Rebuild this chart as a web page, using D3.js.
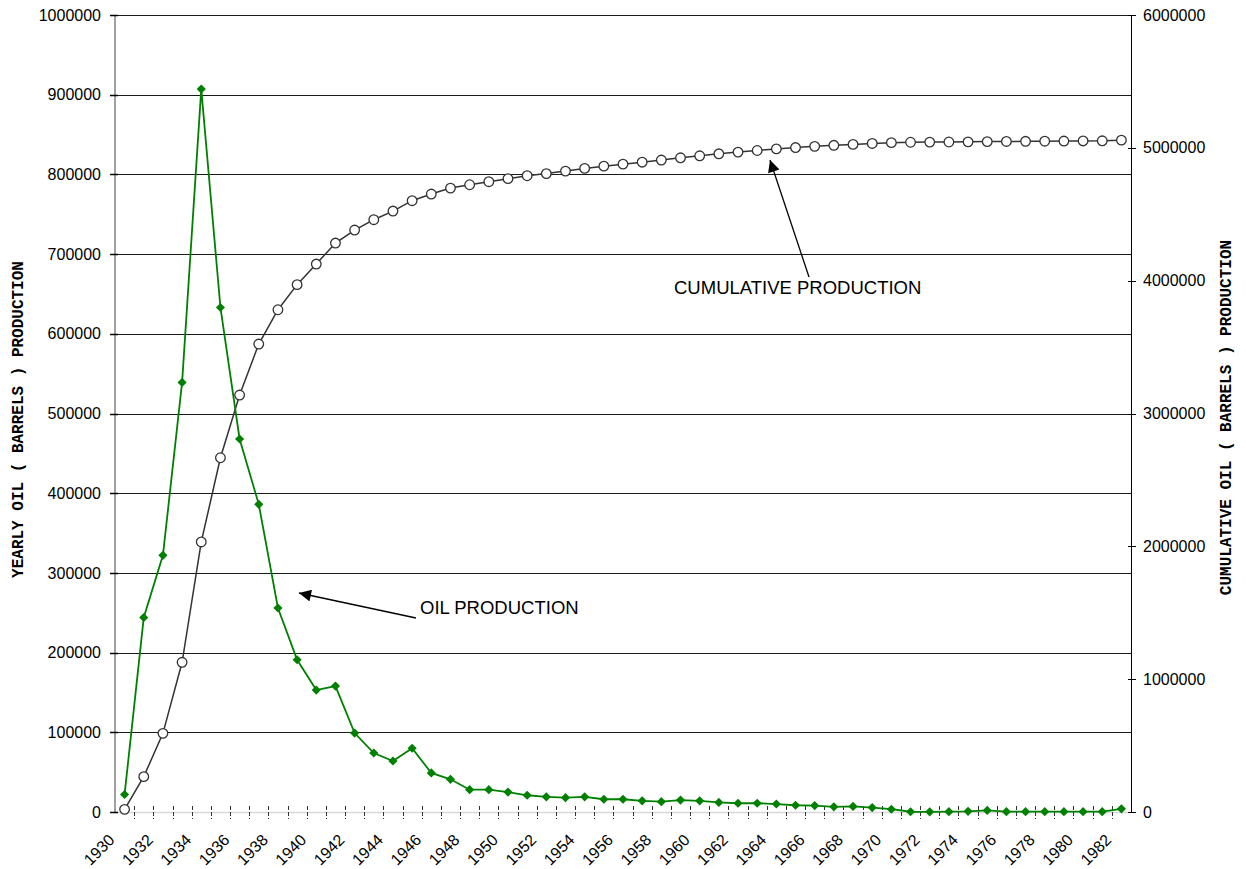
<!DOCTYPE html>
<html>
<head>
<meta charset="utf-8">
<script src="https://cdn.jsdelivr.net/npm/d3@7"></script>
<style>
  body { margin: 0; background: #fff; }
  svg text { font-family: Arial, 'Liberation Sans', sans-serif; fill: #000; }
  .axis-title { font-family: 'Courier New', 'Liberation Mono', monospace; font-weight: bold; font-size: 16px; }
</style>
</head>
<body>
<div id="chart"></div>
<script>
const years = [1930, 1931, 1932, 1933, 1934, 1935, 1936, 1937, 1938, 1939,
  1940, 1941, 1942, 1943, 1944, 1945, 1946, 1947, 1948, 1949,
  1950, 1951, 1952, 1953, 1954, 1955, 1956, 1957, 1958, 1959,
  1960, 1961, 1962, 1963, 1964, 1965, 1966, 1967, 1968, 1969,
  1970, 1971, 1972, 1973, 1974, 1975, 1976, 1977, 1978, 1979,
  1980, 1981, 1982]

// yearly oil production, barrels
const yearlyOil = [22000, 244000, 322000, 539000, 907000, 633000, 468000, 386000, 256000, 191000,
  153000, 158000, 99000, 74000, 64000, 80000, 49000, 41000, 28000, 28000,
  25000, 21000, 19000, 18000, 19000, 16000, 16000, 14000, 13000, 15000,
  14000, 12000, 11000, 11000, 10000, 8500, 8000, 6500, 7000, 5500,
  3500, 300, 200, 400, 800, 2000, 400, 400, 400, 400,
  400, 400, 4000]

// cumulative oil production, barrels
const cumulativeOil = [20000, 266000, 592000, 1127000, 2033000, 2667000, 3139000, 3523000, 3781000, 3970000,
  4125000, 4283000, 4381000, 4459000, 4524000, 4602000, 4652000, 4697000, 4722000, 4745000,
  4768000, 4790000, 4806000, 4825000, 4845000, 4862000, 4877000, 4892000, 4908000, 4925000,
  4940000, 4955000, 4968000, 4980000, 4992000, 5002000, 5011000, 5019000, 5026000, 5033000,
  5039000, 5042000, 5043000, 5044000, 5045000, 5047000, 5048000, 5049000, 5050000, 5051000,
  5052000, 5053000, 5058000]

const leftTicks = [0, 100000, 200000, 300000, 400000, 500000, 600000, 700000, 800000, 900000, 1000000]
const rightTicks = [0, 1000000, 2000000, 3000000, 4000000, 5000000, 6000000]
const yearLabels = [1930, 1932, 1934, 1936, 1938, 1940, 1942, 1944, 1946, 1948,
  1950, 1952, 1954, 1956, 1958, 1960, 1962, 1964, 1966, 1968,
  1970, 1972, 1974, 1976, 1978, 1980, 1982]

const width = 1246
const height = 869
const plotLeft = 115
const plotRight = 1131
const plotTop = 15
const plotBottom = 812

const svg = d3.select('#chart')
  .append('svg')
  .attr('width', width)
  .attr('height', height)

const x = d3.scaleBand().domain(years).range([plotLeft, plotRight]).padding(0)
const cx = (yr) => x(yr) + x.bandwidth() / 2
const yLeft = d3.scaleLinear().domain([0, 1000000]).range([plotBottom, plotTop])
const yRight = d3.scaleLinear().domain([0, 6000000]).range([plotBottom, plotTop])

// gridlines
svg.append('g')
  .selectAll('line')
  .data(leftTicks.filter((d) => d > 0))
  .enter()
  .append('line')
  .attr('x1', plotLeft)
  .attr('x2', plotRight)
  .attr('y1', (d) => Math.round(yLeft(d)) + 0.5)
  .attr('y2', (d) => Math.round(yLeft(d)) + 0.5)
  .style('stroke', '#1a1a1a')
  .style('stroke-width', 1)

// x axis line (light) and dashed ticks between categories
svg.append('line')
  .attr('x1', plotLeft)
  .attr('x2', plotRight)
  .attr('y1', plotBottom + 0.5)
  .attr('y2', plotBottom + 0.5)
  .style('stroke', '#d8d8d8')
  .style('stroke-width', 1.5)

svg.append('g')
  .selectAll('line')
  .data(years.slice(1))
  .enter()
  .append('line')
  .attr('x1', (d) => Math.round(x(d)) + 0.5)
  .attr('x2', (d) => Math.round(x(d)) + 0.5)
  .attr('y1', plotBottom - 6)
  .attr('y2', plotBottom + 7)
  .style('stroke', '#333')
  .style('stroke-width', 1)
  .style('stroke-dasharray', '4,2')

// x labels
svg.append('g')
  .selectAll('text')
  .data(yearLabels)
  .enter()
  .append('text')
  .attr('transform', (d) => `translate(${cx(d) - 9}, ${plotBottom + 29}) rotate(-45)`)
  .attr('text-anchor', 'end')
  .style('font-size', '16px')
  .text((d) => d)

// left axis
const leftAxis = d3.axisLeft(yLeft)
  .tickValues(leftTicks)
  .tickSize(0)
  .tickPadding(14)
  .tickFormat(d3.format('d'))

const gl = svg.append('g')
  .attr('transform', `translate(${plotLeft}, 0)`)
  .call(leftAxis)
gl.select('.domain').remove()
gl.selectAll('text').style('font-size', '16px').style('font-family', 'Arial, "Liberation Sans", sans-serif')

svg.append('line')
  .attr('x1', plotLeft)
  .attr('x2', plotLeft)
  .attr('y1', plotTop)
  .attr('y2', plotBottom)
  .style('stroke', '#808080')
  .style('stroke-width', 1.5)

svg.append('g')
  .selectAll('line')
  .data(leftTicks)
  .enter()
  .append('line')
  .attr('x1', plotLeft - 5)
  .attr('x2', plotLeft + 3)
  .attr('y1', (d) => Math.round(yLeft(d)) + 0.5)
  .attr('y2', (d) => Math.round(yLeft(d)) + 0.5)
  .style('stroke', '#000')
  .style('stroke-width', 1.5)

// right axis
const rightAxis = d3.axisRight(yRight)
  .tickValues(rightTicks)
  .tickSize(0)
  .tickPadding(12)
  .tickFormat(d3.format('d'))

const gr = svg.append('g')
  .attr('transform', `translate(${plotRight}, 0)`)
  .call(rightAxis)
gr.select('.domain').remove()
gr.selectAll('text').style('font-size', '16px').style('font-family', 'Arial, "Liberation Sans", sans-serif')

svg.append('line')
  .attr('x1', plotRight + 0.5)
  .attr('x2', plotRight + 0.5)
  .attr('y1', plotTop)
  .attr('y2', plotBottom)
  .style('stroke', '#000')
  .style('stroke-width', 1)

svg.append('g')
  .selectAll('line')
  .data(rightTicks)
  .enter()
  .append('line')
  .attr('x1', plotRight - 3)
  .attr('x2', plotRight + 5)
  .attr('y1', (d) => Math.round(yRight(d)) + 0.5)
  .attr('y2', (d) => Math.round(yRight(d)) + 0.5)
  .style('stroke', '#000')
  .style('stroke-width', 1)

// axis titles
svg.append('text')
  .attr('class', 'axis-title')
  .attr('transform', `translate(23, ${(plotTop + plotBottom) / 2 + 6}) rotate(-90)`)
  .attr('text-anchor', 'middle')
  .text('YEARLY OIL ( BARRELS ) PRODUCTION')

svg.append('text')
  .attr('class', 'axis-title')
  .attr('transform', `translate(1231, ${(plotTop + plotBottom) / 2 + 4}) rotate(-90)`)
  .attr('text-anchor', 'middle')
  .text('CUMULATIVE OIL ( BARRELS ) PRODUCTION')

// cumulative series
const cumLine = d3.line()
  .x((d, i) => cx(years[i]))
  .y((d) => yRight(d))

svg.append('path')
  .datum(cumulativeOil)
  .attr('d', cumLine)
  .style('fill', 'none')
  .style('stroke', '#333')
  .style('stroke-width', 1.5)

svg.append('g')
  .selectAll('circle')
  .data(cumulativeOil)
  .enter()
  .append('circle')
  .attr('cx', (d, i) => cx(years[i]))
  .attr('cy', (d) => yRight(d))
  .attr('r', 4.8)
  .style('fill', '#fff')
  .style('stroke', '#333')
  .style('stroke-width', 1.3)

// yearly series
const oilLine = d3.line()
  .x((d, i) => cx(years[i]))
  .y((d) => yLeft(d))

svg.append('path')
  .datum(yearlyOil)
  .attr('d', oilLine)
  .style('fill', 'none')
  .style('stroke', '#008000')
  .style('stroke-width', 1.8)

svg.append('g')
  .selectAll('path')
  .data(yearlyOil)
  .enter()
  .append('path')
  .attr('d', d3.symbol(d3.symbolSquare, 42))
  .attr('transform', (d, i) => `translate(${cx(years[i])}, ${yLeft(d)}) rotate(45)`)
  .style('fill', '#008000')

// annotations
svg.append('defs')
  .append('marker')
  .attr('id', 'triangle')
  .attr('viewBox', '0 0 10 10')
  .attr('refX', 10)
  .attr('refY', 5)
  .attr('markerWidth', 14)
  .attr('markerHeight', 12)
  .attr('markerUnits', 'userSpaceOnUse')
  .attr('orient', 'auto')
  .append('path')
  .attr('d', 'M 0 0 L 10 5 L 0 10 z')
  .style('fill', '#000')

const notes = [
  { text: 'CUMULATIVE PRODUCTION', tx: 674, ty: 294, x1: 809, y1: 277, x2: 770, y2: 160 },
  { text: 'OIL PRODUCTION', tx: 420, ty: 614, x1: 416, y1: 618, x2: 299, y2: 593 }
]

notes.forEach((n) => {
  svg.append('line')
    .attr('x1', n.x1)
    .attr('y1', n.y1)
    .attr('x2', n.x2)
    .attr('y2', n.y2)
    .style('stroke', '#000')
    .style('stroke-width', 1.3)
    .attr('marker-end', 'url(#triangle)')
  svg.append('text')
    .attr('x', n.tx)
    .attr('y', n.ty)
    .style('font-size', '18.5px')
    .text(n.text)
})
</script>
</body>
</html>
